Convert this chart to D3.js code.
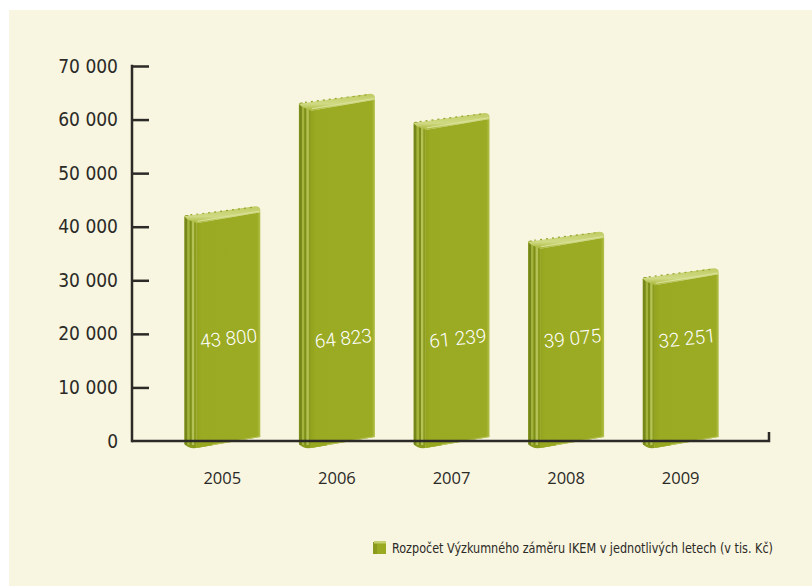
<!DOCTYPE html>
<html>
<head>
<meta charset="utf-8">
<script src="https://cdn.jsdelivr.net/npm/d3@7"></script>
<style>
  html, body { margin: 0; padding: 0; background: #ffffff; }
  svg { display: block; }
</style>
</head>
<body>
<svg id="chart" width="812" height="586"></svg>
<script>
// Research budget per year (thousands CZK)
const years = ["2005", "2006", "2007", "2008", "2009"];
const budget = [43800, 64823, 61239, 39075, 32251];
const budgetLabels = ["43 800", "64 823", "61 239", "39 075", "32 251"];
const yTicks = [0, 10000, 20000, 30000, 40000, 50000, 60000, 70000];
const yTickLabels = ["0", "10 000", "20 000", "30 000", "40 000", "50 000", "60 000", "70 000"];
const legendText = "Rozpočet Výzkumného záměru IKEM v jednotlivých letech (v tis. Kč)";

const svg = d3.select("#chart");
const W = 812, H = 586;

// cream panel
svg.append("rect").attr("x", 9).attr("y", 10).attr("width", W - 9).attr("height", H - 10)
  .attr("fill", "#f8f5e1");

const defs = svg.append("defs");
const topGrad = defs.append("linearGradient").attr("id", "topGrad")
  .attr("x1", 0).attr("y1", 0).attr("x2", 0).attr("y2", 1);
topGrad.append("stop").attr("offset", "0%").attr("stop-color", "#bfcb62");
topGrad.append("stop").attr("offset", "60%").attr("stop-color", "#d0da84");
topGrad.append("stop").attr("offset", "100%").attr("stop-color", "#a6b535");

const frontGrad = defs.append("linearGradient").attr("id", "frontGrad")
  .attr("x1", 0).attr("y1", 0).attr("x2", 1).attr("y2", 0);
frontGrad.append("stop").attr("offset", "0%").attr("stop-color", "#93a31d");
frontGrad.append("stop").attr("offset", "8%").attr("stop-color", "#9aaa22");
frontGrad.append("stop").attr("offset", "95%").attr("stop-color", "#9bab23");
frontGrad.append("stop").attr("offset", "100%").attr("stop-color", "#b2c04a");

const x = d3.scaleBand().domain(years).range([165, 738]);
const y = d3.scaleLinear().domain([0, 70000]).range([441, 66]);
const y0 = y(0);

const axisColor = "#2b2a26";
const numFont = "'DejaVu Sans', sans-serif";

// y axis
const yAxis = d3.axisRight(y).tickValues(yTicks.slice(1)).tickSize(17).tickFormat("");
const gy = svg.append("g").attr("transform", "translate(132,0)").call(yAxis);
gy.select(".domain").remove();
gy.selectAll(".tick line").attr("stroke", axisColor).attr("stroke-width", 2.5);
svg.append("line").attr("x1", 132).attr("x2", 132).attr("y1", y(70000) - 1.2).attr("y2", y0 + 1.2)
  .attr("stroke", axisColor).attr("stroke-width", 2.5);

svg.append("g").selectAll("text").data(yTicks).join("text")
  .attr("x", 118).attr("y", d => y(d) + 6.5)
  .attr("text-anchor", "end")
  .attr("font-family", numFont).attr("font-stretch", "condensed").attr("font-size", 19)
  .attr("fill", "#2b2a26")
  .text((d, i) => yTickLabels[i]);

// bars drawn as standing books
const bars = svg.append("g").selectAll("g").data(years).join("g")
  .attr("transform", d => `translate(${x(d) + x.bandwidth() / 2},0)`);

bars.each(function (d, i) {
  const g = d3.select(this);
  const t = y(budget[i]);
  const L = -38, F = -26, R = 38;
  // spine
  g.append("path")
    .attr("d", `M${L},${t + 11} Q${L},${t + 8} ${L + 4},${t + 9} L${F},${t + 16} L${F},${y0 + 7} Q${L + 4},${y0 + 8} ${L},${y0 + 3} Z`)
    .attr("fill", "#8a9a1c");
  const strips = [[L + 0.5, 2.5, "#75861a"], [L + 3, 2.5, "#a3b33c"], [L + 5.5, 2, "#7e8f19"], [L + 7.5, 2.5, "#b4c255"], [L + 10, 2, "#8c9d1e"]];
  strips.forEach(([sx, sw, c]) => {
    g.append("rect").attr("x", sx).attr("y", t + 12).attr("width", sw)
      .attr("height", y0 - t - 8).attr("fill", c);
  });
  // top edge
  g.append("path")
    .attr("d", `M${L},${t + 10} L${R - 5},${t} Q${R},${t} ${R},${t + 4} L${R},${t + 6} L${F},${t + 17} L${L + 3},${t + 13} Z`)
    .attr("fill", "url(#topGrad)");
  g.append("line")
    .attr("x1", L + 6).attr("y1", t + 8.6).attr("x2", R - 6).attr("y2", t + 0.8)
    .attr("stroke", "#97a62c").attr("stroke-width", 1.2).attr("stroke-dasharray", "2 4");
  g.append("line")
    .attr("x1", F + 1).attr("y1", t + 15).attr("x2", R - 1).attr("y2", t + 4.8)
    .attr("stroke", "#dbe39a").attr("stroke-width", 1);
  // front cover
  g.append("path")
    .attr("d", `M${F},${t + 17} L${R},${t + 6} L${R},${y0 - 4} L${F},${y0 + 7} Z`)
    .attr("fill", "url(#frontGrad)");
  g.append("line")
    .attr("x1", F).attr("y1", y0 + 6.5).attr("x2", R).attr("y2", y0 - 4.5)
    .attr("stroke", "#b8c55a").attr("stroke-width", 1);
  // value label
  g.append("text")
    .attr("transform", `translate(${(F + R) / 2 + 1},345) rotate(-6)`)
    .attr("text-anchor", "middle")
    .attr("font-family", "Roboto, 'DejaVu Sans', sans-serif").attr("font-weight", 300)
    .attr("font-size", 19).attr("fill", "#ffffff")
    .text(budgetLabels[i]);
});

// baseline drawn over the book bottoms
svg.append("path")
  .attr("d", `M132,${y0} H769 V${y0 - 9}`)
  .attr("fill", "none").attr("stroke", axisColor).attr("stroke-width", 2.5);

// front part of the book bottoms over the baseline
bars.each(function () {
  d3.select(this).append("path")
    .attr("d", `M-26,${y0 - 1.5} L-26,${y0 + 7} L-10,${y0 + 4.3} L-10,${y0 - 1.5} Z`)
    .attr("fill", "#97a720");
});

// year labels
svg.append("g").selectAll("text").data(years).join("text")
  .attr("x", d => x(d) + x.bandwidth() / 2)
  .attr("y", 484)
  .attr("text-anchor", "middle")
  .attr("font-family", "'Open Sans', 'Liberation Sans', sans-serif").attr("font-size", 16.5)
  .attr("fill", "#2b2a26")
  .text(d => d);

// legend
const lg = svg.append("g").attr("transform", "translate(373,541)");
lg.append("rect").attr("x", 0).attr("y", 1).attr("width", 4).attr("height", 12).attr("fill", "#8a9a1c");
lg.append("rect").attr("x", 4).attr("y", 2).attr("width", 9).attr("height", 11).attr("fill", "#9aaa22");
lg.append("rect").attr("x", 1).attr("y", 0).attr("width", 12).attr("height", 2.5).attr("fill", "#c6d170");
lg.append("text").attr("x", 19).attr("y", 12)
  .attr("font-family", "'DejaVu Sans', sans-serif").attr("font-stretch", "condensed")
  .attr("font-size", 13.5).attr("fill", "#2b2a26")
  .attr("textLength", 381).attr("lengthAdjust", "spacingAndGlyphs")
  .text(legendText);
</script>
</body>
</html>
